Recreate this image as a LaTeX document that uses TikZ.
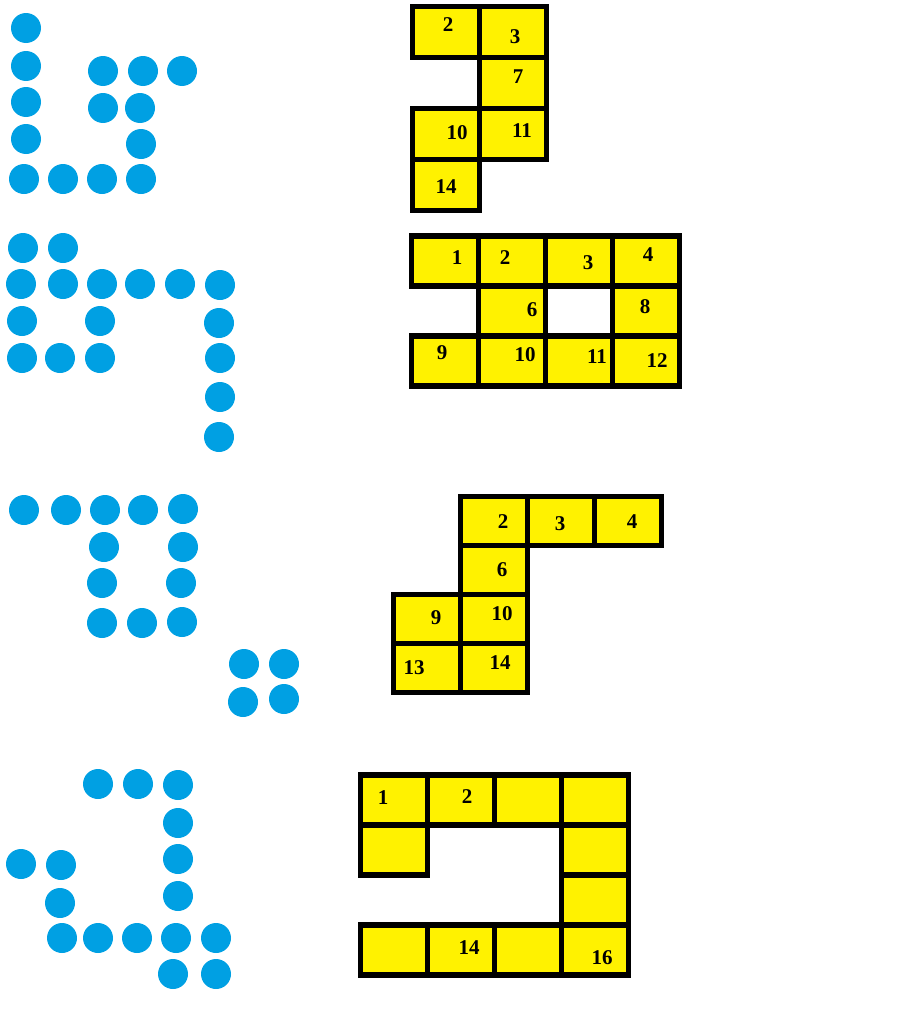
\documentclass[tikz,border=0pt]{standalone}
\usepackage{fontspec}
\setmainfont{Liberation Serif}
\usetikzlibrary{positioning}
\definecolor{dotblue}{RGB}{0,160,227}
\definecolor{cellyellow}{RGB}{255,242,0}

\begin{document}
\begin{tikzpicture}[x=1pt,y=-1pt,
                    font=\fontsize{21}{25}\selectfont\bfseries,
                    node distance=0pt,
                    dot/.style={circle, fill=dotblue, minimum size=30pt, inner sep=0pt},
                    cell/.style={rectangle, draw=black, line width=5.5pt, fill=cellyellow,
                                 minimum width=67pt, minimum height=50pt,
                                 inner sep=0pt, outer sep=0pt},
                    number/.style={inner sep=0pt}]
    \useasboundingbox (0,0) rectangle (905,1009);

    % dots, one group per row of the page
    \foreach \x/\y [count=\i] in {26/28, 26/66, 26/102, 26/139, 24/179, 63/179, 102/179, 141/179,
                                  103/71, 143/71, 182/71, 103/108, 140/108, 141/144}
        \node (pa\i) [dot] at (\x,\y) {};
    \foreach \x/\y [count=\i] in {23/248, 63/248, 21/284, 63/284, 102/284, 140/284, 180/284, 220/285,
                                  22/321, 100/321, 219/323, 22/358, 60/358, 100/358, 220/358,
                                  220/397, 219/437}
        \node (pb\i) [dot] at (\x,\y) {};
    \foreach \x/\y [count=\i] in {24/510, 66/510, 105/510, 143/510, 183/509, 104/547, 183/547,
                                  102/583, 181/583, 102/623, 142/623, 182/622,
                                  244/664, 284/664, 243/702, 284/699}
        \node (pc\i) [dot] at (\x,\y) {};
    \foreach \x/\y [count=\i] in {98/784, 138/784, 178/785, 178/823, 178/859, 21/864, 61/865,
                                  178/896, 60/903, 62/938, 98/938, 137/938, 176/938, 216/938,
                                  173/974, 216/974}
        \node (pd\i) [dot] at (\x,\y) {};

    % first figure
    \node (a2)  [cell, minimum height=51pt] at (446,32) {};
    \node (a3)  [cell, minimum height=51pt, right = of a2] {};
    \node (a7)  [cell, minimum height=51pt, below = of a3] {};
    \node (a11) [cell, minimum height=51pt, below = of a7] {};
    \node (a10) [cell, minimum height=51pt, left = of a11] {};
    \node (a14) [cell, minimum height=51pt, below = of a10] {};

    % second figure
    \node (b1)  [cell] at (445,261) {};
    \node (b2)  [cell, right = of b1] {};
    \node (b3)  [cell, right = of b2] {};
    \node (b4)  [cell, right = of b3] {};
    \node (b6)  [cell, below = of b2] {};
    \node (b8)  [cell, below = of b4] {};
    \node (b10) [cell, below = of b6] {};
    \node (b9)  [cell, left = of b10] {};
    \node (b11) [cell, right = of b10] {};
    \node (b12) [cell, right = of b11] {};

    % third figure
    \node (c2)  [cell, minimum height=49pt] at (494,521) {};
    \node (c3)  [cell, minimum height=49pt, right = of c2] {};
    \node (c4)  [cell, minimum height=49pt, right = of c3] {};
    \node (c6)  [cell, minimum height=49pt, below = of c2] {};
    \node (c10) [cell, minimum height=49pt, below = of c6] {};
    \node (c14) [cell, minimum height=49pt, below = of c10] {};
    \node (c9)  [cell, minimum height=49pt, left = of c10] {};
    \node (c13) [cell, minimum height=49pt, left = of c14] {};

    % fourth figure
    \node (d1)  [cell] at (394,800) {};
    \node (d2)  [cell, right = of d1] {};
    \node (d3)  [cell, right = of d2] {};
    \node (d4)  [cell, right = of d3] {};
    \node (d5)  [cell, below = of d1] {};
    \node (d8)  [cell, below = of d4] {};
    \node (d12) [cell, below = of d8] {};
    \node (d16) [cell, below = of d12] {};
    \node (d15) [cell, left = of d16] {};
    \node (d14) [cell, left = of d15] {};
    \node (d13) [cell, left = of d14] {};

    % numbers
    \node (na2)  [number] at (448,25)  {2};
    \node (na3)  [number] at (515,37)  {3};
    \node (na7)  [number] at (518,77)  {7};
    \node (na10) [number] at (457,133) {10};
    \node (na11) [number] at (522,131) {11};
    \node (na14) [number] at (446,187) {14};

    \node (nb1)  [number] at (457,258) {1};
    \node (nb2)  [number] at (505,258) {2};
    \node (nb3)  [number] at (588,263) {3};
    \node (nb4)  [number] at (648,255) {4};
    \node (nb6)  [number] at (532,310) {6};
    \node (nb8)  [number] at (645,307) {8};
    \node (nb9)  [number] at (442,353) {9};
    \node (nb10) [number] at (525,355) {10};
    \node (nb11) [number] at (597,357) {11};
    \node (nb12) [number] at (657,361) {12};

    \node (nc2)  [number] at (503,522) {2};
    \node (nc3)  [number] at (560,524) {3};
    \node (nc4)  [number] at (632,522) {4};
    \node (nc6)  [number] at (502,570) {6};
    \node (nc9)  [number] at (436,618) {9};
    \node (nc10) [number] at (502,614) {10};
    \node (nc13) [number] at (414,668) {13};
    \node (nc14) [number] at (500,663) {14};

    \node (nd1)  [number] at (383,798) {1};
    \node (nd2)  [number] at (467,797) {2};
    \node (nd14) [number] at (469,948) {14};
    \node (nd16) [number] at (602,958) {16};
\end{tikzpicture}
\end{document}
